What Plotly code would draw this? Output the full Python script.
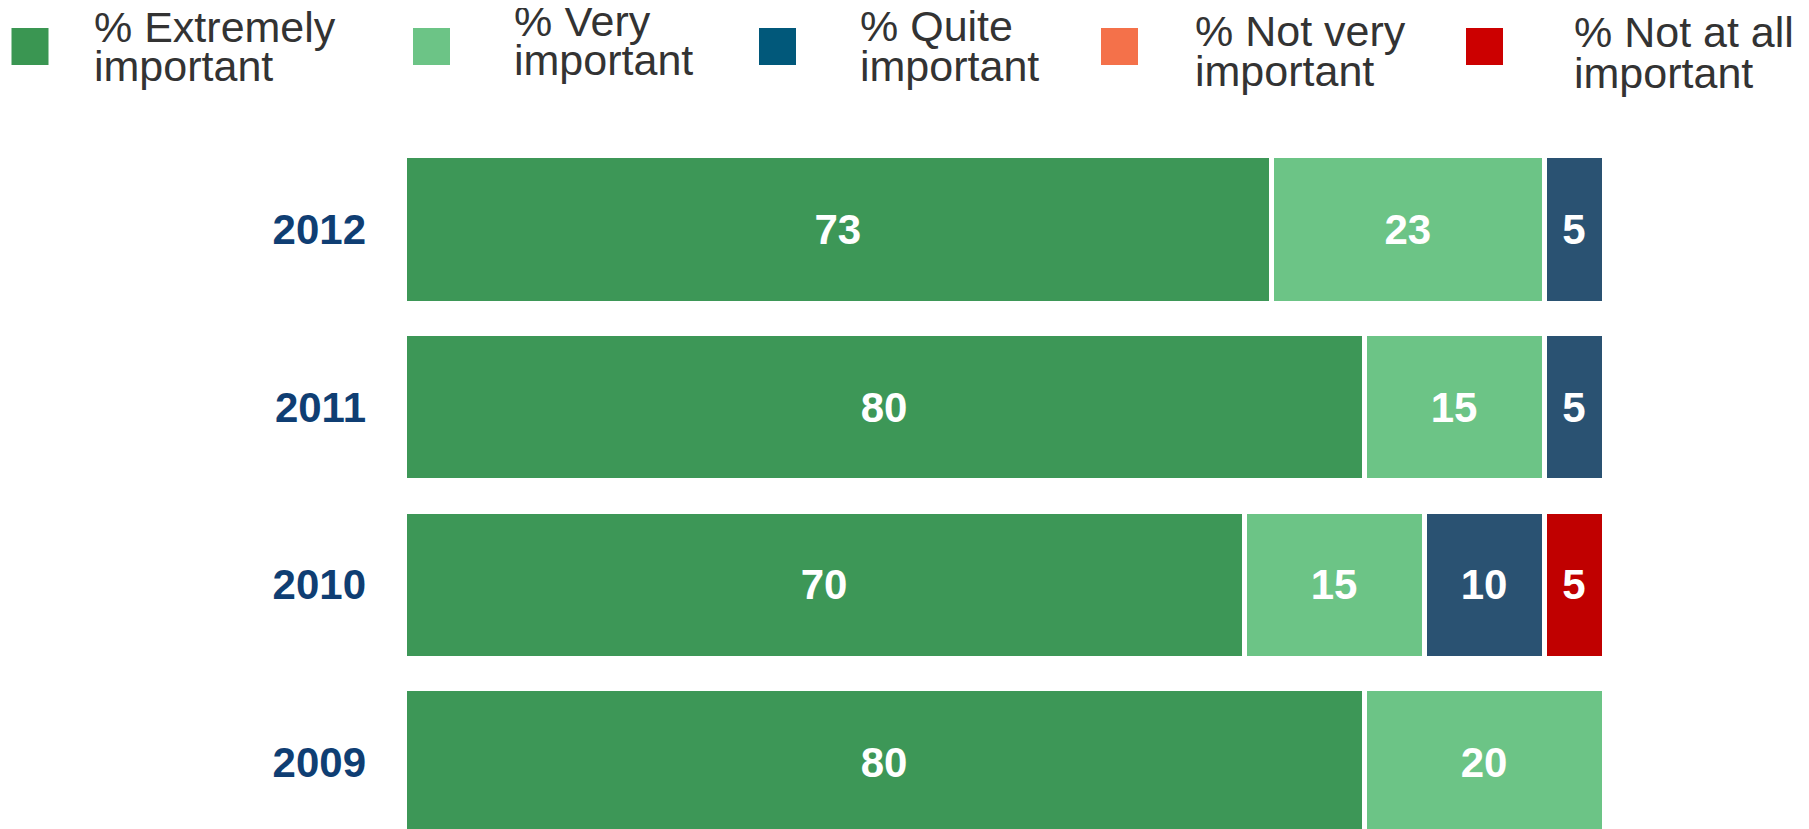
import plotly.graph_objects as go

# ---------------- data ----------------
years = ["2009", "2010", "2011", "2012"]

series_names = [
    "% Extremely important",
    "% Very important",
    "% Quite important",
    "% Not very important",
    "% Not at all important",
]
extremely = [80, 70, 80, 72.3]
very = [20, 15, 15, 22.7]
quite = [None, 10, 5, 5]
not_very = [None, None, None, None]
not_at_all = [None, 5, None, None]

extremely_labels = ["80", "70", "80", "73"]
very_labels = ["20", "15", "15", "23"]
quite_labels = ["", "10", "5", "5"]
not_very_labels = ["", "", "", ""]
not_at_all_labels = ["", "5", "", ""]

bar_colors = ["#3D9757", "#6CC486", "#2A5272", "#F4714A", "#C00000"]
legend_colors = ["#3A9652", "#6CC486", "#01587A", "#F4714A", "#CC0000"]
legend_lines = [
    ["% Extremely", "important"],
    ["% Very", "important"],
    ["% Quite", "important"],
    ["% Not very", "important"],
    ["% Not at all", "important"],
]

# ---------------- layout constants ----------------
OFF = 8  # page body margin
W, H = 1809 - OFF, 829 - OFF
L, R, T, B = 404 - OFF, 205, 141 - OFF, 0
PW, PH = W - L - R, H - T - B
FONT = "Liberation Sans, Arial, Helvetica, sans-serif"


def px_x(xp):
    # xp given in page pixels
    return (xp - OFF - L) / PW


def px_y(yp):
    return (H - B - (yp - OFF)) / PH


fig = go.Figure()
values = [extremely, very, quite, not_very, not_at_all]
labels = [extremely_labels, very_labels, quite_labels, not_very_labels, not_at_all_labels]
for name, vals, labs, col in zip(series_names, values, labels, bar_colors):
    fig.add_trace(
        go.Bar(
            y=years,
            x=vals,
            name=name,
            orientation="h",
            marker=dict(color=col, line=dict(color="white", width=5)),
            text=labs,
            textposition="inside",
            insidetextanchor="middle",
            textangle=0,
            constraintext="none",
            textfont=dict(family=FONT, size=42, color="white", weight="bold"),
            showlegend=False,
            hoverinfo="x+y+name",
        )
    )

# ---------------- custom legend ----------------
legend_square_x = [11.5, 413, 759, 1101, 1466]
legend_text_x = [93, 513, 859, 1194, 1573]
legend_line_y = [(26.5, 66), (21, 60), (26, 66), (31, 71), (32, 73)]
shapes = []
annotations = []
for i in range(5):
    sx = legend_square_x[i]
    shapes.append(
        dict(
            type="rect", xref="paper", yref="paper",
            x0=px_x(sx), x1=px_x(sx + 37), y0=px_y(65), y1=px_y(28),
            fillcolor=legend_colors[i], line=dict(width=0),
        )
    )
    for line_text, ly in zip(legend_lines[i], legend_line_y[i]):
        annotations.append(
            dict(
                xref="paper", yref="paper", x=px_x(legend_text_x[i]), y=px_y(ly),
                xanchor="left", yanchor="middle", showarrow=False,
                text=line_text, borderpad=0,
                font=dict(family=FONT, size=43, color="#333333"),
            )
        )

fig.update_layout(
    width=W, height=H,
    margin=dict(l=L, r=R, t=T, b=B, pad=0),
    barmode="stack",
    bargap=0.17,
    paper_bgcolor="white",
    plot_bgcolor="white",
    shapes=shapes,
    annotations=annotations,
    xaxis=dict(range=[0, 100], visible=False, fixedrange=True),
    yaxis=dict(
        type="category",
        categoryorder="array",
        categoryarray=years,
        range=[-0.3755, 3.4983],
        showgrid=False, zeroline=False, showline=False,
        ticks="", ticklabelstandoff=37,
        tickfont=dict(family=FONT, size=42, color="#0F3E73", weight="bold"),
        fixedrange=True,
    ),
    font=dict(family=FONT),
)

fig.write_html("out.html")
